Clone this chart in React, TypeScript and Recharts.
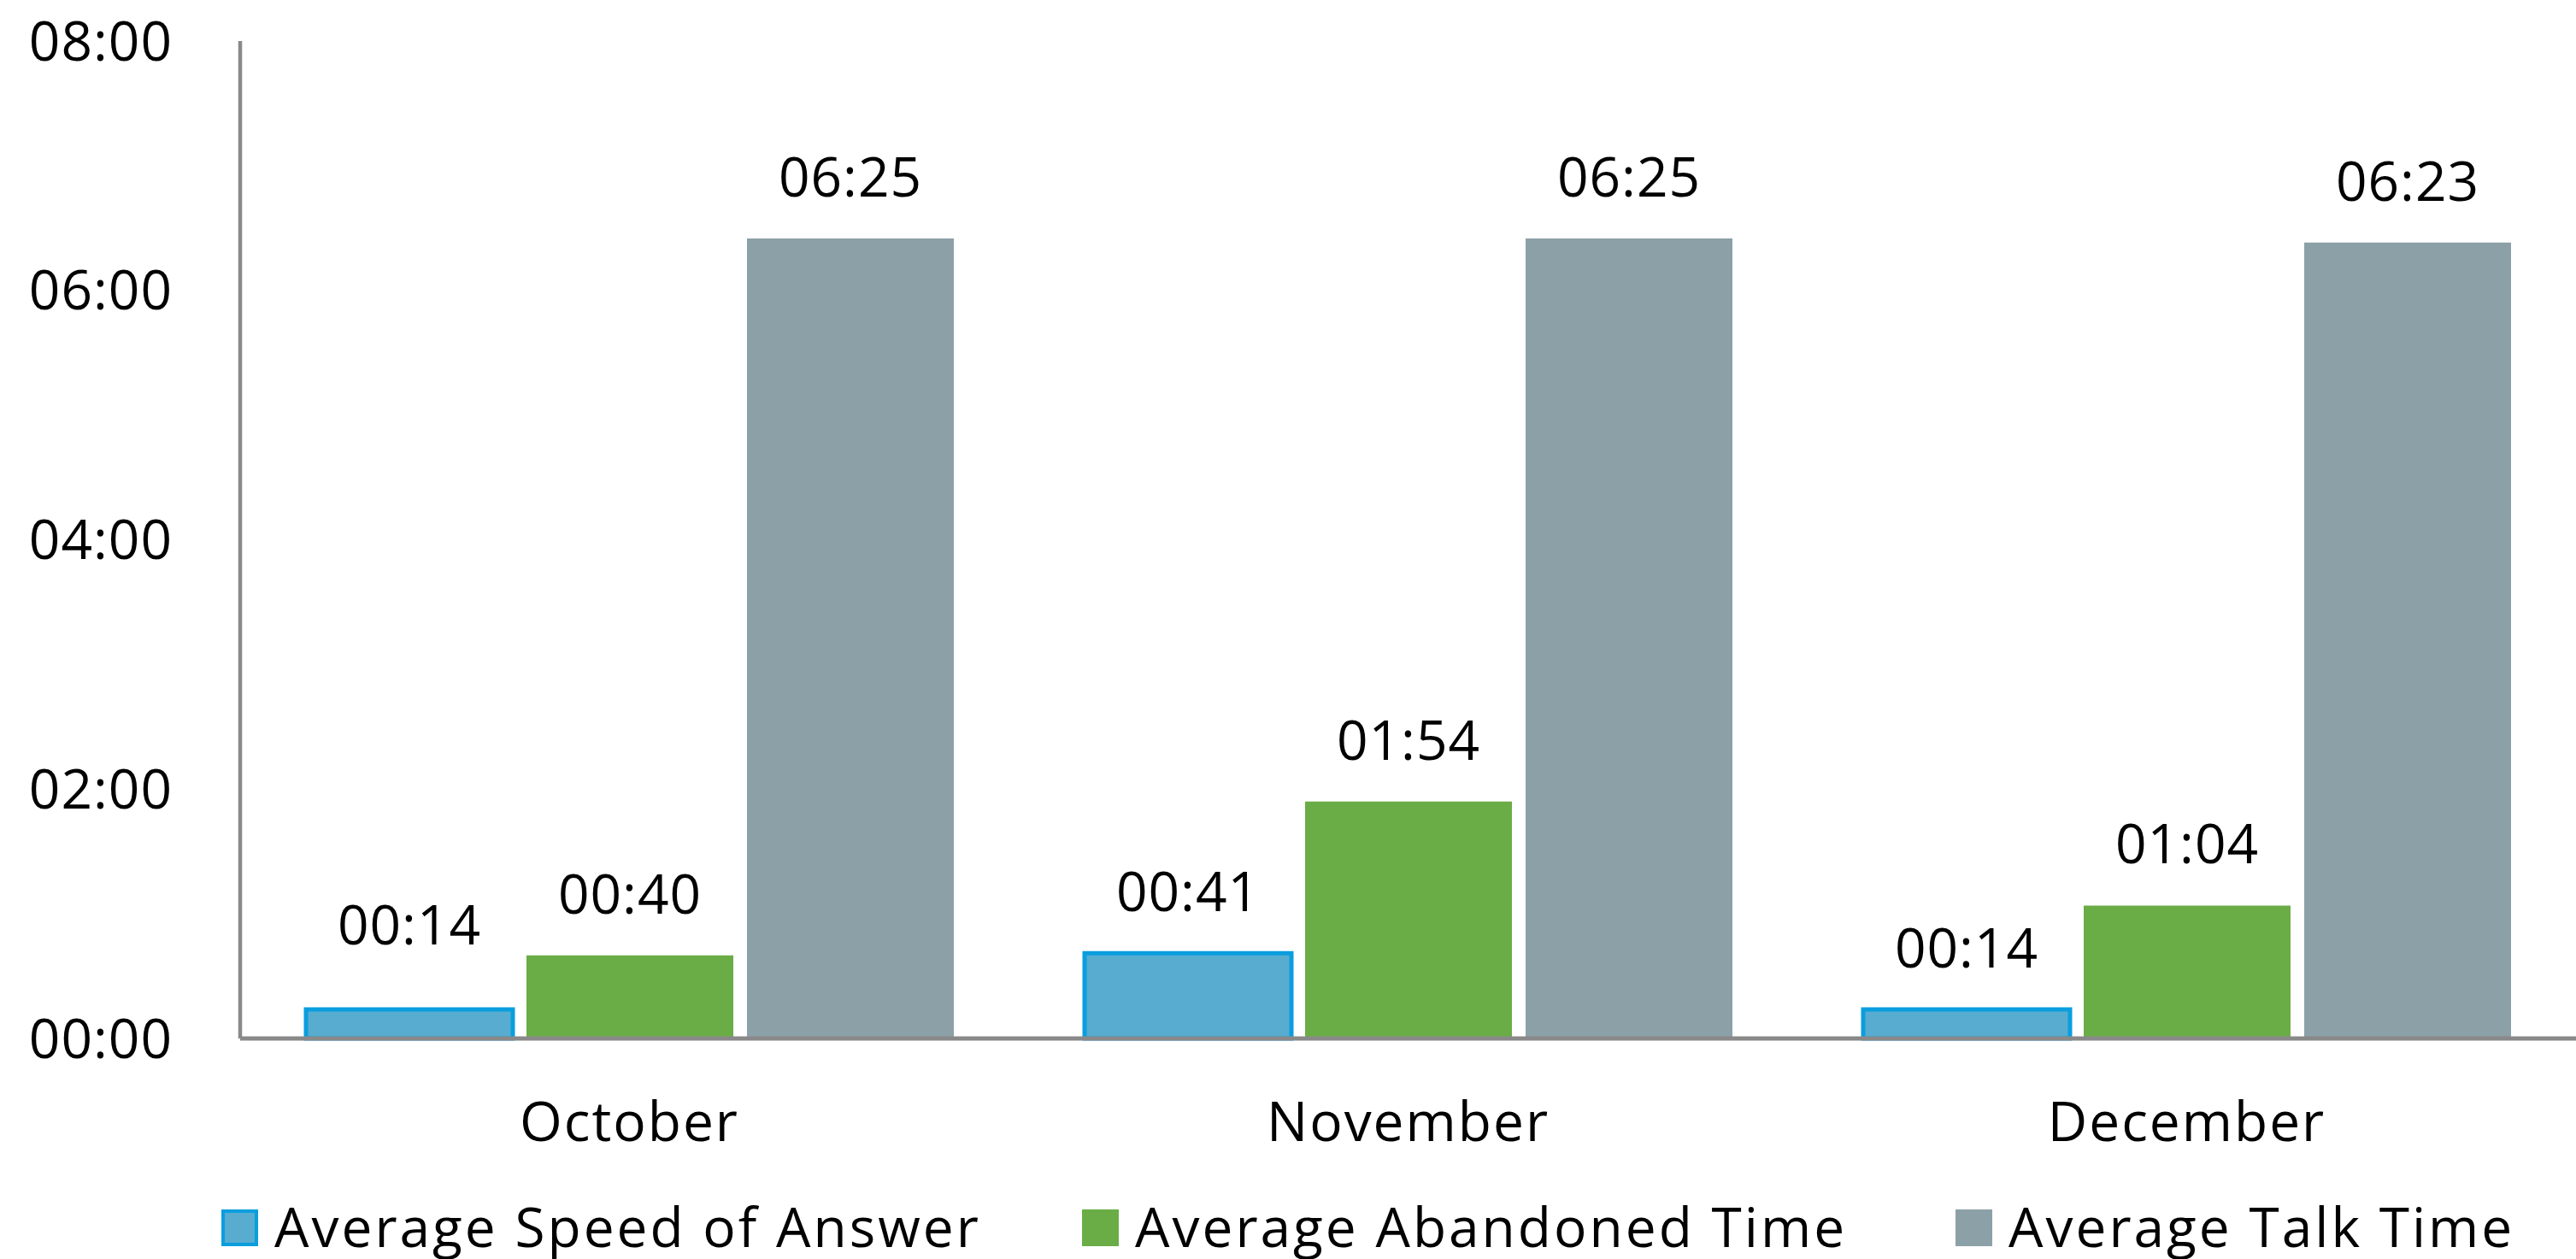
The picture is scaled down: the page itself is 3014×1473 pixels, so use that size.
import React from "react";
import { Bar, BarChart, LabelList, Legend, XAxis, YAxis } from "recharts";

// values are in seconds, axis shows mm:ss
const months = ["October", "November", "December"];
const speedOfAnswer = [14, 41, 14];
const abandonedTime = [40, 114, 64];
const talkTime = [385, 385, 383];
const yTicks = [0, 120, 240, 360, 480];

const seriesNames = ["Average Speed of Answer", "Average Abandoned Time", "Average Talk Time"];

const data = months.map((month, i) => ({
  month,
  speed: speedOfAnswer[i],
  abandoned: abandonedTime[i],
  talk: talkTime[i],
}));

const FONT = "'Open Sans', 'Noto Sans', sans-serif";
const FS = 64;
const AXIS = "#898989";

const BLUE = "#58acd0";
const BLUE_EDGE = "#0a9ede";
const GREEN = "#6aad46";
const GREY = "#8ca0a8";

function mmss(sec: number) {
  const m = Math.floor(sec / 60);
  const s = Math.round(sec % 60);
  return `${String(m).padStart(2, "0")}:${String(s).padStart(2, "0")}`;
}

// the first October label sits a bit higher in the original
function makeLabel(extraLift: (index: number) => number) {
  return (props: any) => {
    const { x, y, width, value, index } = props;
    return (
      <text
        x={Number(x) + Number(width) / 2}
        y={Number(y) - 49 - extraLift(index)}
        textAnchor="middle"
        fontFamily={FONT}
        fontSize={FS}
        letterSpacing={1}
        fill="#000"
      >
        {mmss(Number(value))}
      </text>
    );
  };
}

const legendColors = [
  { fill: BLUE, stroke: BLUE_EDGE },
  { fill: GREEN, stroke: GREEN },
  { fill: GREY, stroke: GREY },
];
const legendWidths = [1007, 1022, 700];

function ChartLegend() {
  return (
    <div
      style={{
        display: "flex",
        height: 100,
        paddingLeft: 259,
        paddingTop: 42,
        boxSizing: "border-box",
        alignItems: "flex-start",
      }}
    >
      {seriesNames.map((name, i) => (
        <div key={name} style={{ display: "flex", alignItems: "center", width: legendWidths[i], height: 43 }}>
          <div
            style={{
              width: 43,
              height: 43,
              boxSizing: "border-box",
              background: legendColors[i].fill,
              border: `4px solid ${legendColors[i].stroke}`,
              marginRight: 19,
              flexShrink: 0,
            }}
          />
          <span
            style={{
              fontFamily: FONT,
              fontSize: FS,
              letterSpacing: 3,
              color: "#000",
              lineHeight: "40px",
              whiteSpace: "nowrap",
              position: "relative",
              top: -2,
            }}
          >
            {name}
          </span>
        </div>
      ))}
    </div>
  );
}

export default function App() {
  return (
    <div style={{ position: "absolute", left: 0, top: 0, width: 3014, height: 1473, background: "#fff" }}>
      <BarChart
        width={3014}
        height={1473}
        data={data}
        margin={{ top: 48, right: 0, bottom: 0, left: 0 }}
        barCategoryGap={77}
        barGap={16}
      >
        <XAxis
          dataKey="month"
          stroke={AXIS}
          strokeWidth={5}
          tickLine={false}
          tickSize={0}
          tickMargin={75}
          height={158}
          tick={{ fill: "#000", fontSize: FS, fontFamily: FONT, letterSpacing: 2 }}
        />
        <YAxis
          domain={[0, 480]}
          ticks={yTicks}
          tickFormatter={mmss}
          stroke={AXIS}
          strokeWidth={4.5}
          tickLine={false}
          tickSize={0}
          tickMargin={79}
          width={281}
          interval={0}
          tick={{ fill: "#000", fontSize: FS, fontFamily: FONT, letterSpacing: 1 }}
        />
        <Legend verticalAlign="bottom" wrapperStyle={{ left: 0, width: 3014 }} content={() => <ChartLegend />} />
        <Bar dataKey="speed" name={seriesNames[0]} fill={BLUE} stroke={BLUE_EDGE} strokeWidth={5} isAnimationActive={false}>
          <LabelList dataKey="speed" content={makeLabel((i) => (i === 0 ? 27 : 0))} />
        </Bar>
        <Bar dataKey="abandoned" name={seriesNames[1]} fill={GREEN} isAnimationActive={false}>
          <LabelList dataKey="abandoned" content={makeLabel(() => 0)} />
        </Bar>
        <Bar dataKey="talk" name={seriesNames[2]} fill={GREY} isAnimationActive={false}>
          <LabelList dataKey="talk" content={makeLabel(() => 0)} />
        </Bar>
      </BarChart>
    </div>
  );
}
